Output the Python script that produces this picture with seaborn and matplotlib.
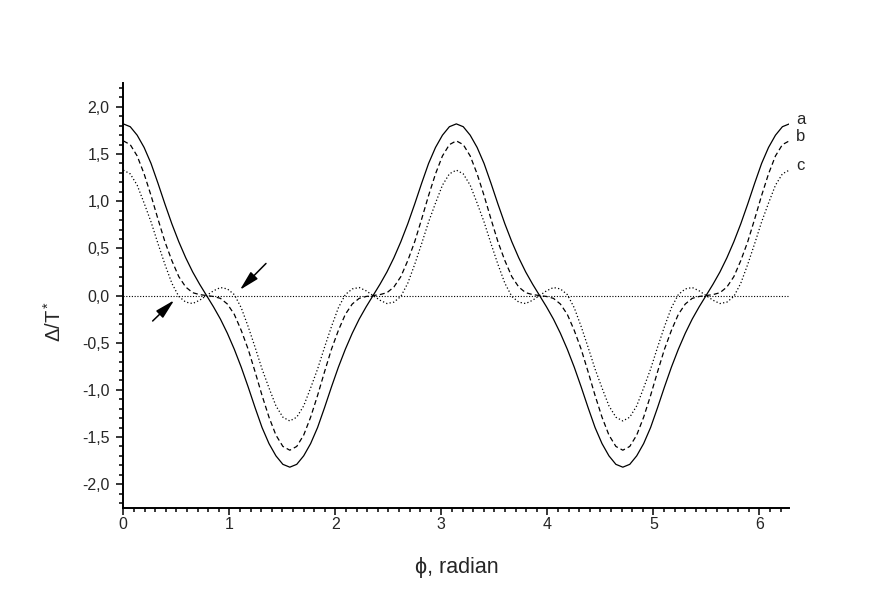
import numpy as np
import pandas as pd
import matplotlib
matplotlib.use("Agg")
import matplotlib.pyplot as plt
from matplotlib.ticker import MultipleLocator, FuncFormatter
import seaborn as sns

# phi grid: 0 .. 2*pi in steps of pi/48
PHI = np.linspace(0, 2 * np.pi, 97)

# values (one curve per list)
CURVE_A = [
    1.82, 1.79, 1.70, 1.57, 1.40, 1.19, 0.97, 0.76, 0.57, 0.40, 0.25, 0.12, 0.00,
    -0.12, -0.25, -0.40, -0.57, -0.76, -0.97, -1.19, -1.40, -1.57, -1.70, -1.79, -1.82,
    -1.79, -1.70, -1.57, -1.40, -1.19, -0.97, -0.76, -0.57, -0.40, -0.25, -0.12, 0.00,
    0.12, 0.25, 0.40, 0.57, 0.76, 0.97, 1.19, 1.40, 1.57, 1.70, 1.79,
    1.82, 1.79, 1.70, 1.57, 1.40, 1.19, 0.97, 0.76, 0.57, 0.40, 0.25, 0.12, 0.00,
    -0.12, -0.25, -0.40, -0.57, -0.76, -0.97, -1.19, -1.40, -1.57, -1.70, -1.79, -1.82,
    -1.79, -1.70, -1.57, -1.40, -1.19, -0.97, -0.76, -0.57, -0.40, -0.25, -0.12, 0.00,
    0.12, 0.25, 0.40, 0.57, 0.76, 0.97, 1.19, 1.40, 1.57, 1.70, 1.79, 1.82,
]
CURVE_B = [
    1.64, 1.60, 1.48, 1.29, 1.06, 0.81, 0.57, 0.37, 0.20, 0.09, 0.03, 0.01, 0.00,
    -0.01, -0.03, -0.09, -0.20, -0.37, -0.57, -0.81, -1.06, -1.29, -1.48, -1.60, -1.64,
    -1.60, -1.48, -1.29, -1.06, -0.81, -0.57, -0.37, -0.20, -0.09, -0.03, -0.01, 0.00,
    0.01, 0.03, 0.09, 0.20, 0.37, 0.57, 0.81, 1.06, 1.29, 1.48, 1.60,
    1.64, 1.60, 1.48, 1.29, 1.06, 0.81, 0.57, 0.37, 0.20, 0.09, 0.03, 0.01, 0.00,
    -0.01, -0.03, -0.09, -0.20, -0.37, -0.57, -0.81, -1.06, -1.29, -1.48, -1.60, -1.64,
    -1.60, -1.48, -1.29, -1.06, -0.81, -0.57, -0.37, -0.20, -0.09, -0.03, -0.01, 0.00,
    0.01, 0.03, 0.09, 0.20, 0.37, 0.57, 0.81, 1.06, 1.29, 1.48, 1.60, 1.64,
]
CURVE_C = [
    1.33, 1.29, 1.17, 0.98, 0.78, 0.55, 0.33, 0.13, -0.01, -0.07, -0.085, -0.05, 0.00,
    0.05, 0.085, 0.07, 0.01, -0.13, -0.33, -0.55, -0.78, -0.98, -1.17, -1.29, -1.33,
    -1.29, -1.17, -0.98, -0.78, -0.55, -0.33, -0.13, 0.01, 0.07, 0.085, 0.05, 0.00,
    -0.05, -0.085, -0.07, -0.01, 0.13, 0.33, 0.55, 0.78, 0.98, 1.17, 1.29,
    1.33, 1.29, 1.17, 0.98, 0.78, 0.55, 0.33, 0.13, -0.01, -0.07, -0.085, -0.05, 0.00,
    0.05, 0.085, 0.07, 0.01, -0.13, -0.33, -0.55, -0.78, -0.98, -1.17, -1.29, -1.33,
    -1.29, -1.17, -0.98, -0.78, -0.55, -0.33, -0.13, 0.01, 0.07, 0.085, 0.05, 0.00,
    -0.05, -0.085, -0.07, -0.01, 0.13, 0.33, 0.55, 0.78, 0.98, 1.17, 1.29, 1.33,
]
CURVE_NAMES = ["a", "b", "c"]

# arrows pointing at the zero crossings of curve c: (tail, tip)
ARROWS = [((0.277, -0.27), (0.48, -0.05)), ((1.346, 0.34), (1.10, 0.06))]

sns.set_style("ticks")
plt.rcParams["font.family"] = ["Liberation Sans", "DejaVu Sans"]
plt.rcParams["mathtext.fontset"] = "custom"
plt.rcParams["mathtext.rm"] = "Liberation Sans"
plt.rcParams["mathtext.it"] = "Liberation Sans"

df = pd.DataFrame({
    "phi": np.tile(PHI, 3),
    "value": CURVE_A + CURVE_B + CURVE_C,
    "curve": np.repeat(CURVE_NAMES, len(PHI)),
})

fig = plt.figure(figsize=(8.72, 6.03), dpi=100)
ax = fig.add_axes([0.1414, 0.158, 0.7638, 0.7038])

sns.lineplot(
    data=df, x="phi", y="value", hue="curve", style="curve",
    palette={"a": "black", "b": "black", "c": "black"},
    dashes={"a": "", "b": (4, 2.5), "c": (1, 1.8)},
    linewidth=0.9, legend=False, ax=ax, estimator=None,
)

ax.axhline(0, color="black", lw=0.8, linestyle=(0, (1, 1.5)))

# curve labels at the right end
for name, vals in zip(CURVE_NAMES, [CURVE_A, CURVE_B, CURVE_C]):
    ax.annotate(name, xy=(PHI[-1], vals[-1]), xytext=(5, 3),
                textcoords="offset points", ha="left", va="center",
                fontsize=12, annotation_clip=False)

for tail, tip in ARROWS:
    ax.annotate("", xy=tip, xytext=tail,
                arrowprops=dict(arrowstyle="-|>,head_length=1.0,head_width=0.25",
                                color="black", lw=1.1, mutation_scale=12,
                                shrinkA=0, shrinkB=0))

ax.set_xlim(0, 2 * np.pi)
ax.set_ylim(-2.25, 2.25)
ax.xaxis.set_major_locator(MultipleLocator(1))
ax.xaxis.set_minor_locator(MultipleLocator(0.1))
ax.yaxis.set_major_locator(MultipleLocator(0.5))
ax.yaxis.set_minor_locator(MultipleLocator(0.1))
ax.yaxis.set_major_formatter(FuncFormatter(lambda v, p: f"{v:.1f}".replace(".", ",")))

sns.despine(ax=ax)
for side in ["left", "bottom"]:
    ax.spines[side].set_linewidth(1.4)
    ax.spines[side].set_color("black")
ax.tick_params(which="both", direction="out", color="black", width=1.1, labelsize=11.5)
ax.tick_params(which="major", length=5)
ax.tick_params(which="minor", length=2.8)
ax.tick_params(axis="y", which="major", pad=5)
ax.tick_params(axis="x", which="major", pad=2)

ax.set_xlabel("\u03d5, radian", fontsize=15.5, labelpad=18)
ax.set_ylabel("\u0394/T$^*$", fontsize=14.5)
ax.yaxis.set_label_coords(-0.088, 0.44)

fig.savefig("out.png", dpi=100, facecolor="white")
